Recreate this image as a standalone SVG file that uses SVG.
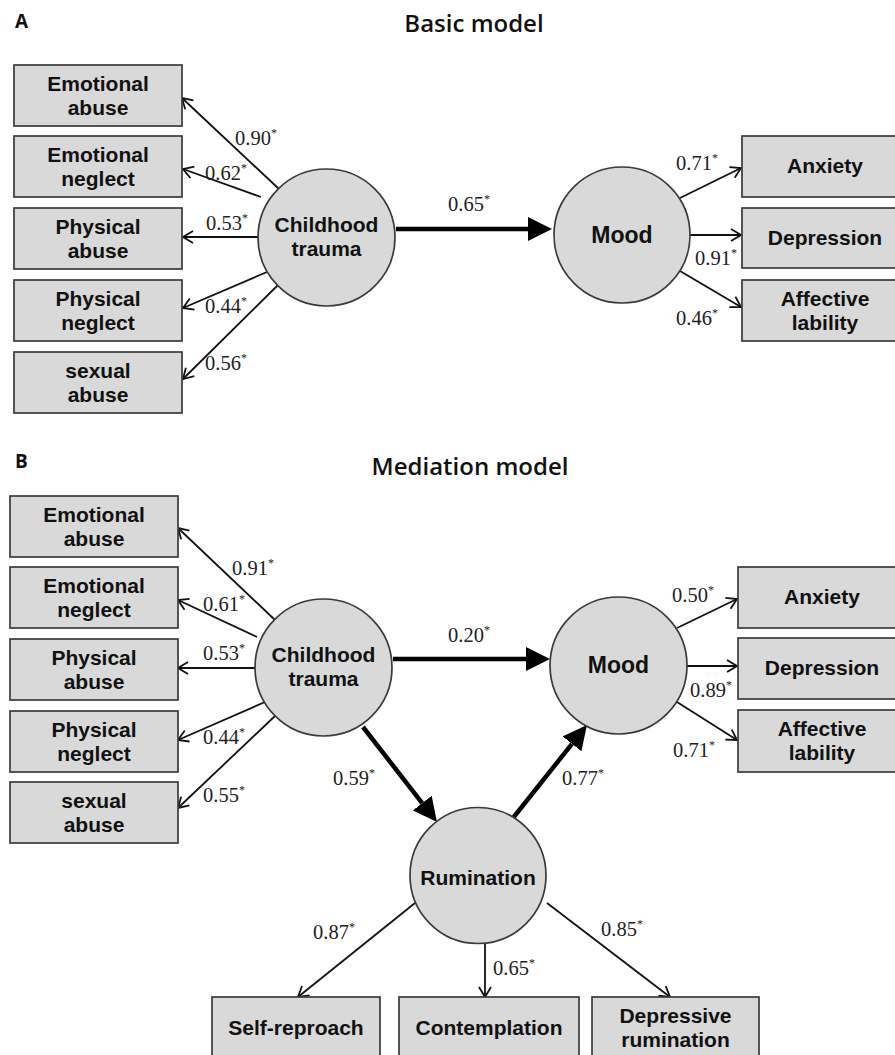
<svg xmlns="http://www.w3.org/2000/svg" width="895" height="1055" viewBox="0 0 895 1055">
<defs>
<style>
.box{fill:#d9d9d9;stroke:#3a3a3a;stroke-width:1.7}
.lat{fill:#d9d9d9;stroke:#3a3a3a;stroke-width:1.7}
.nt{font-family:"Liberation Sans",Arial,sans-serif;font-weight:bold;font-size:21px;fill:#111;text-anchor:middle}
.mt{font-family:"Liberation Sans",Arial,sans-serif;font-weight:bold;font-size:23px;fill:#111;text-anchor:middle}
.ttl{font-family:"Open Sans","Noto Sans",sans-serif;font-weight:600;font-size:24px;fill:#111;text-anchor:middle}
.pl{font-family:"Open Sans","Noto Sans",sans-serif;font-weight:bold;font-size:19px;fill:#111}
.lb{font-family:"Liberation Serif","Times New Roman",serif;font-size:20.5px;fill:#222}
.st{font-size:12px}
.thin{stroke:#111;stroke-width:1.8;fill:none;marker-end:url(#open)}
.thick{stroke:#000;stroke-width:4.5;fill:none;marker-end:url(#solid)}
</style>
<marker id="open" markerUnits="userSpaceOnUse" viewBox="0 0 12 14" refX="11" refY="7" markerWidth="12" markerHeight="14" orient="auto">
<path d="M1,1 L11,7 L1,13" fill="none" stroke="#111" stroke-width="1.8"/>
</marker>
<marker id="solid" markerUnits="userSpaceOnUse" viewBox="0 0 24 24" refX="0" refY="12" markerWidth="24" markerHeight="24" orient="auto">
<path d="M0,0 L24,12 L0,24 z" fill="#000"/>
</marker>
</defs>
<rect width="895" height="1055" fill="#fff"/>

<text class="pl" x="15" y="28">A</text>
<text class="ttl" x="474" y="32">Basic model</text>
<text class="pl" x="15" y="468">B</text>
<text class="ttl" x="470" y="475">Mediation model</text>

<g id="connectors">
<!-- Panel A -->
<line class="thin" x1="279" y1="189" x2="182" y2="98"/>
<line class="thin" x1="261" y1="197" x2="183" y2="169"/>
<line class="thin" x1="258" y1="237" x2="183" y2="237"/>
<line class="thin" x1="267" y1="272" x2="183" y2="308"/>
<line class="thin" x1="278" y1="285" x2="183" y2="379"/>
<line class="thin" x1="680" y1="198" x2="741" y2="168"/>
<line class="thin" x1="690" y1="235" x2="741" y2="235"/>
<line class="thin" x1="680" y1="271" x2="741" y2="307"/>
<line class="thick" x1="396" y1="229" x2="528" y2="229"/>
<!-- Panel B -->
<line class="thin" x1="275" y1="620" x2="178" y2="528"/>
<line class="thin" x1="257" y1="637" x2="178" y2="600"/>
<line class="thin" x1="255" y1="668" x2="178" y2="668"/>
<line class="thin" x1="265" y1="702" x2="178" y2="740"/>
<line class="thin" x1="275" y1="716" x2="178" y2="808"/>
<line class="thin" x1="677" y1="628" x2="737" y2="599"/>
<line class="thin" x1="687" y1="666" x2="737" y2="666"/>
<line class="thin" x1="677" y1="702" x2="737" y2="740"/>
<line class="thin" x1="415" y1="903" x2="298" y2="997"/>
<line class="thin" x1="485" y1="943" x2="485" y2="997"/>
<line class="thin" x1="547" y1="903" x2="670" y2="997"/>
<line class="thick" x1="393" y1="659" x2="526" y2="659"/>
<line class="thick" x1="363" y1="727" x2="422.2" y2="803.1"/>
<line class="thick" x1="513" y1="818" x2="572" y2="743.8"/>
</g>

<g id="labels">
<text class="lb" x="235" y="145">0.90<tspan class="st" dy="-8">*</tspan></text>
<text class="lb" x="205" y="180">0.62<tspan class="st" dy="-8">*</tspan></text>
<text class="lb" x="206" y="230">0.53<tspan class="st" dy="-8">*</tspan></text>
<text class="lb" x="205" y="313">0.44<tspan class="st" dy="-8">*</tspan></text>
<text class="lb" x="205" y="370">0.56<tspan class="st" dy="-8">*</tspan></text>
<text class="lb" x="448" y="211">0.65<tspan class="st" dy="-8">*</tspan></text>
<text class="lb" x="676" y="170">0.71<tspan class="st" dy="-8">*</tspan></text>
<text class="lb" x="695" y="265">0.91<tspan class="st" dy="-8">*</tspan></text>
<text class="lb" x="676" y="325">0.46<tspan class="st" dy="-8">*</tspan></text>

<text class="lb" x="232" y="575">0.91<tspan class="st" dy="-8">*</tspan></text>
<text class="lb" x="203" y="611">0.61<tspan class="st" dy="-8">*</tspan></text>
<text class="lb" x="203" y="660">0.53<tspan class="st" dy="-8">*</tspan></text>
<text class="lb" x="203" y="744">0.44<tspan class="st" dy="-8">*</tspan></text>
<text class="lb" x="203" y="802">0.55<tspan class="st" dy="-8">*</tspan></text>
<text class="lb" x="448" y="642">0.20<tspan class="st" dy="-8">*</tspan></text>
<text class="lb" x="672" y="602">0.50<tspan class="st" dy="-8">*</tspan></text>
<text class="lb" x="690" y="697">0.89<tspan class="st" dy="-8">*</tspan></text>
<text class="lb" x="673" y="757">0.71<tspan class="st" dy="-8">*</tspan></text>
<text class="lb" x="333" y="785">0.59<tspan class="st" dy="-8">*</tspan></text>
<text class="lb" x="562" y="785">0.77<tspan class="st" dy="-8">*</tspan></text>
<text class="lb" x="313" y="939">0.87<tspan class="st" dy="-8">*</tspan></text>
<text class="lb" x="493" y="975">0.65<tspan class="st" dy="-8">*</tspan></text>
<text class="lb" x="601" y="936">0.85<tspan class="st" dy="-8">*</tspan></text>
</g>

<!-- Panel A nodes -->
<g id="a-emotional-abuse"><rect class="box" x="14" y="65" width="168" height="61"/><text class="nt" x="98" y="91">Emotional<tspan x="98" dy="24">abuse</tspan></text></g>
<g id="a-emotional-neglect"><rect class="box" x="14" y="136" width="168" height="61"/><text class="nt" x="98" y="162">Emotional<tspan x="98" dy="24">neglect</tspan></text></g>
<g id="a-physical-abuse"><rect class="box" x="14" y="208" width="168" height="61"/><text class="nt" x="98" y="234">Physical<tspan x="98" dy="24">abuse</tspan></text></g>
<g id="a-physical-neglect"><rect class="box" x="14" y="280" width="168" height="61"/><text class="nt" x="98" y="306">Physical<tspan x="98" dy="24">neglect</tspan></text></g>
<g id="a-sexual-abuse"><rect class="box" x="14" y="352" width="168" height="61"/><text class="nt" x="98" y="378">sexual<tspan x="98" dy="24">abuse</tspan></text></g>
<g id="a-childhood-trauma"><circle class="lat" cx="326.5" cy="237.5" r="68.5"/><text class="nt" x="326.5" y="232">Childhood<tspan x="326.5" dy="24">trauma</tspan></text></g>
<g id="a-mood"><circle class="lat" cx="622" cy="235" r="68"/><text class="mt" x="622" y="243">Mood</text></g>
<g id="a-anxiety"><rect class="box" x="742" y="136" width="170" height="61"/><text class="nt" x="825" y="173">Anxiety</text></g>
<g id="a-depression"><rect class="box" x="742" y="208" width="170" height="60"/><text class="nt" x="825" y="245">Depression</text></g>
<g id="a-affective-lability"><rect class="box" x="742" y="280" width="170" height="61"/><text class="nt" x="825" y="306">Affective<tspan x="825" dy="24">lability</tspan></text></g>

<!-- Panel B nodes -->
<g id="b-emotional-abuse"><rect class="box" x="10" y="496" width="168" height="61"/><text class="nt" x="94" y="522">Emotional<tspan x="94" dy="24">abuse</tspan></text></g>
<g id="b-emotional-neglect"><rect class="box" x="10" y="567" width="168" height="61"/><text class="nt" x="94" y="593">Emotional<tspan x="94" dy="24">neglect</tspan></text></g>
<g id="b-physical-abuse"><rect class="box" x="10" y="639" width="168" height="61"/><text class="nt" x="94" y="665">Physical<tspan x="94" dy="24">abuse</tspan></text></g>
<g id="b-physical-neglect"><rect class="box" x="10" y="711" width="168" height="61"/><text class="nt" x="94" y="737">Physical<tspan x="94" dy="24">neglect</tspan></text></g>
<g id="b-sexual-abuse"><rect class="box" x="10" y="782" width="168" height="61"/><text class="nt" x="94" y="808">sexual<tspan x="94" dy="24">abuse</tspan></text></g>
<g id="b-childhood-trauma"><circle class="lat" cx="323.5" cy="667.5" r="68.5"/><text class="nt" x="323.5" y="662">Childhood<tspan x="323.5" dy="24">trauma</tspan></text></g>
<g id="b-mood"><circle class="lat" cx="618.5" cy="665.5" r="68.5"/><text class="mt" x="618.5" y="673">Mood</text></g>
<g id="b-rumination"><circle class="lat" cx="478" cy="875.5" r="68"/><text class="nt" x="478" y="885">Rumination</text></g>
<g id="b-anxiety"><rect class="box" x="738" y="567" width="170" height="61"/><text class="nt" x="822" y="604">Anxiety</text></g>
<g id="b-depression"><rect class="box" x="738" y="638" width="170" height="61"/><text class="nt" x="822" y="675">Depression</text></g>
<g id="b-affective-lability"><rect class="box" x="738" y="710" width="170" height="62"/><text class="nt" x="822" y="736">Affective<tspan x="822" dy="24">lability</tspan></text></g>
<g id="b-self-reproach"><rect class="box" x="212" y="997" width="168" height="70"/><text class="nt" x="296" y="1035">Self-reproach</text></g>
<g id="b-contemplation"><rect class="box" x="399" y="997" width="180" height="70"/><text class="nt" x="489" y="1035">Contemplation</text></g>
<g id="b-depressive-rumination"><rect class="box" x="592" y="997" width="167" height="70"/><text class="nt" x="675.5" y="1023">Depressive<tspan x="675.5" dy="24">rumination</tspan></text></g>
</svg>
